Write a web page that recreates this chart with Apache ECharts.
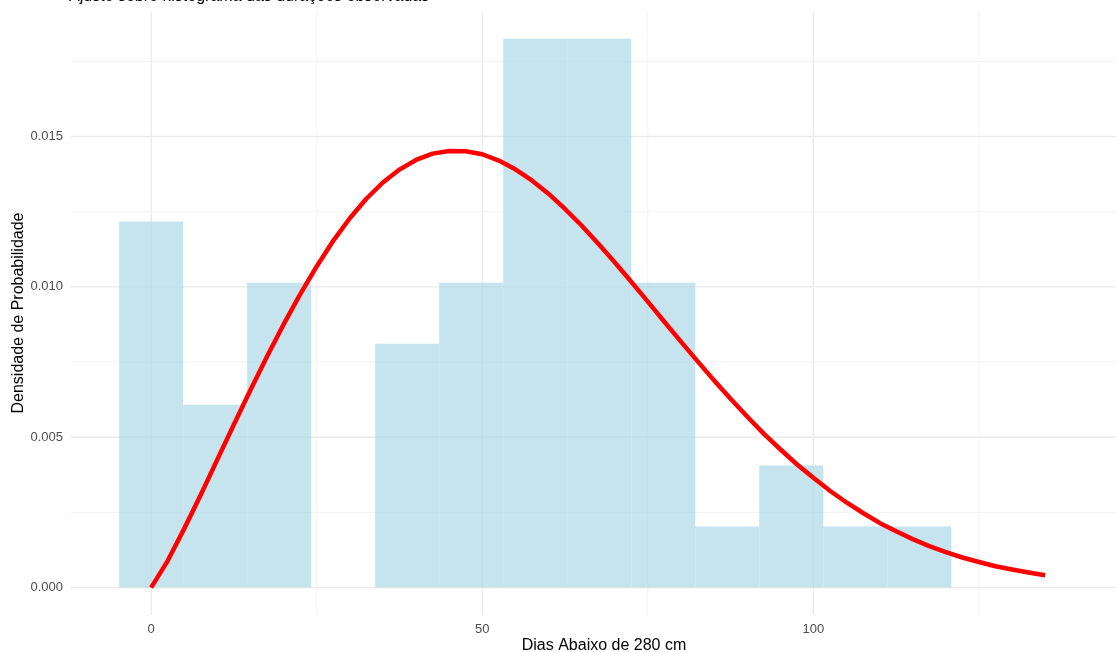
<!DOCTYPE html>
<html>
<head>
<meta charset="utf-8">
<script src="https://cdn.jsdelivr.net/npm/echarts@6/dist/echarts.min.js"></script>
<style>
html,body{margin:0;padding:0;background:#fff;}
#chart{width:1116px;height:652px;}
</style>
</head>
<body>
<div id="chart"></div>
<script>
// Histogram bins (left edge, right edge) and density heights
const binLeft  = [-4.83, 4.83, 14.50, 24.17, 33.83, 43.50, 53.17, 62.83, 72.50, 82.17, 91.83, 101.50, 111.17];
const binRight = [ 4.83, 14.50, 24.17, 33.83, 43.50, 53.17, 62.83, 72.50, 82.17, 91.83, 101.50, 111.17, 120.83];
const density  = [0.01217, 0.00608, 0.01014, 0, 0.00811, 0.01014, 0.01825, 0.01825, 0.01014, 0.00203, 0.00406, 0.00203, 0.00203];

// Fitted density curve
const curveX = [0, 2.5, 5, 7.5, 10, 12.5, 15, 17.5, 20, 22.5, 25, 27.5, 30, 32.5, 35, 37.5, 40, 42.5, 45, 47.5,
                50, 52.5, 55, 57.5, 60, 62.5, 65, 67.5, 70, 72.5, 75, 77.5, 80, 82.5, 85, 87.5, 90, 92.5, 95, 97.5,
                100, 102.5, 105, 107.5, 110, 112.5, 115, 117.5, 120, 122.5, 125, 127.5, 130, 132.5, 135];
const curveY = [0, 0.00089, 0.00196, 0.00309, 0.00426, 0.00542, 0.00657, 0.00768, 0.00875, 0.00975, 0.01068, 0.01153,
                0.01228, 0.01293, 0.01347, 0.01390, 0.01422, 0.01443, 0.01452, 0.01451, 0.01441, 0.01420, 0.01391, 0.01354,
                0.01310, 0.01259, 0.01204, 0.01144, 0.01082, 0.01017, 0.00951, 0.00884, 0.00818, 0.00753, 0.00689, 0.00628,
                0.00569, 0.00512, 0.00460, 0.00410, 0.00365, 0.00322, 0.00283, 0.00248, 0.00215, 0.00187, 0.00161, 0.00138,
                0.00118, 0.00100, 0.00085, 0.00071, 0.00060, 0.00050, 0.00041];

// Axis ticks / gridlines
const xTickLabels = [0, 50, 100];
const xMajorGrid = [0, 50, 100];
const xMinorGrid = [25, 75, 125];
const yTickLabels = [0, 0.005, 0.010, 0.015];
const yMajorGrid = [0, 0.005, 0.010, 0.015];
const yMinorGrid = [0.0025, 0.0075, 0.0125, 0.0175];

const subtitleText = 'Ajuste sobre histograma das durações observadas';
const xTitle = 'Dias Abaixo de 280 cm';
const yTitle = 'Densidade de Probabilidade';

const X_MIN = -12.1, X_MAX = 145.7, Y_MIN = -0.000912, Y_MAX = 0.01914;
const FONT = '"Liberation Sans", Arial, Helvetica, sans-serif';

function vGrid(values, color, width) {
  return {
    type: 'custom', silent: true, z: 0,
    data: values.map(v => [v]),
    encode: { x: 0 },
    renderItem: function (params, api) {
      const v = api.value(0);
      const a = api.coord([v, Y_MIN]);
      const b = api.coord([v, Y_MAX]);
      return { type: 'line', shape: { x1: a[0], y1: a[1], x2: b[0], y2: b[1] }, style: { stroke: color, lineWidth: width } };
    }
  };
}
function hGrid(values, color, width) {
  return {
    type: 'custom', silent: true, z: 0,
    data: values.map(v => [v]),
    encode: { y: 0 },
    renderItem: function (params, api) {
      const v = api.value(0);
      const a = api.coord([X_MIN, v]);
      const b = api.coord([X_MAX, v]);
      return { type: 'line', shape: { x1: a[0], y1: a[1], x2: b[0], y2: b[1] }, style: { stroke: color, lineWidth: width } };
    }
  };
}

const chart = echarts.init(document.getElementById('chart'), null, { renderer: 'canvas' });
chart.setOption({
  animation: false,
  backgroundColor: '#ffffff',
  grid: { left: 71, right: 0, top: 12, bottom: 37, containLabel: false },
  xAxis: {
    type: 'value', min: X_MIN, max: X_MAX,
    axisLine: { show: false }, axisTick: { show: false }, splitLine: { show: false },
    axisLabel: { customValues: xTickLabels, margin: 8, color: '#4d4d4d', fontSize: 13, fontFamily: FONT,
                 formatter: v => String(Math.round(v)) }
  },
  yAxis: {
    type: 'value', min: Y_MIN, max: Y_MAX,
    axisLine: { show: false }, axisTick: { show: false }, splitLine: { show: false },
    axisLabel: { customValues: yTickLabels, margin: 8, color: '#4d4d4d', fontSize: 13, fontFamily: FONT,
                 formatter: v => v.toFixed(3) }
  },
  graphic: [
    { type: 'text', left: 69, top: -11.5, style: { text: subtitleText, fill: '#000', font: '16px ' + FONT } },
    { type: 'text', x: 604, y: 646, style: { text: xTitle, fill: '#000', font: '16px ' + FONT, textAlign: 'center', textVerticalAlign: 'middle' } },
    { type: 'text', x: 19, y: 313, rotation: Math.PI / 2, style: { text: yTitle, fill: '#000', font: '16px ' + FONT, textAlign: 'center', textVerticalAlign: 'middle' } }
  ],
  series: [
    vGrid(xMinorGrid, '#f3f3f3', 1),
    hGrid(yMinorGrid, '#f3f3f3', 1),
    vGrid(xMajorGrid, '#ebebeb', 1.4),
    hGrid(yMajorGrid, '#ebebeb', 1.4),
    {
      type: 'custom', z: 2,
      data: binLeft.map((l, i) => [l, binRight[i], density[i]]),
      encode: { x: [0, 1], y: 2 },
      renderItem: function (params, api) {
        const h = api.value(2);
        if (!h) return null;
        const p0 = api.coord([api.value(0), h]);
        const p1 = api.coord([api.value(1), 0]);
        return { type: 'rect', shape: { x: p0[0], y: p0[1], width: p1[0] - p0[0], height: p1[1] - p0[1] },
                 style: { fill: 'rgba(173,216,230,0.7)' } };
      }
    },
    {
      type: 'line', z: 3,
      data: curveX.map((x, i) => [x, curveY[i]]),
      smooth: false, showSymbol: false, symbol: 'none',
      lineStyle: { color: '#ff0000', width: 4.5, cap: 'butt', join: 'round' }
    }
  ]
});
</script>
</body>
</html>
